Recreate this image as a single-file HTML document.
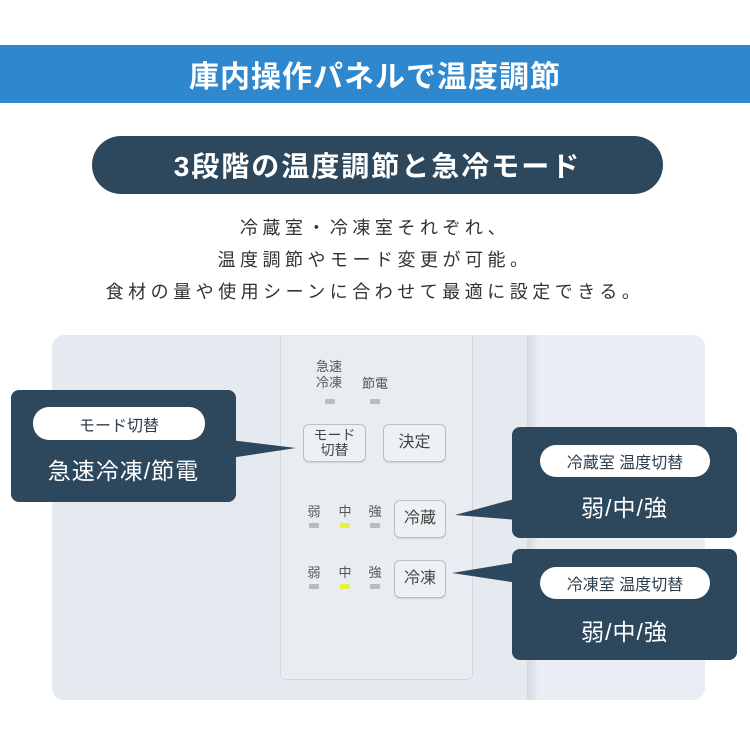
<!DOCTYPE html>
<html><head><meta charset="utf-8"><style>
*{margin:0;padding:0;box-sizing:border-box}
body{width:750px;height:750px;background:#fff;position:relative;overflow:hidden;font-family:"Liberation Sans","Noto Sans CJK JP",sans-serif}
.a{position:absolute}
.c{display:flex;align-items:center;justify-content:center}
.btn{position:absolute;border:1px solid #b9bfc6;border-radius:6px;background:#eef1f4;color:#444;font-size:16px;display:flex;align-items:center;justify-content:center;text-align:center;line-height:1.1;box-shadow:0 1px 1px rgba(0,0,0,.1)}
.lbl{position:absolute;font-size:13px;color:#555;text-align:center;line-height:1.25}
.led{position:absolute;width:10px;height:5px;background:#b4bcc4;border-radius:1px}
.y{background:#e8f03a}
.box{position:absolute;background:#2d475c;border-radius:8px;color:#fff}
.pill{position:absolute;background:#fff;color:#2d3e4d;border-radius:16px;font-size:16px;display:flex;align-items:center;justify-content:center}
.big{position:absolute;left:0;right:0;text-align:center;font-size:23px;letter-spacing:1px}
</style></head><body>
<div class="a c" style="left:0;top:45px;width:750px;height:58px;background:#2f87cd;color:#fff;font-size:30px;font-weight:bold;letter-spacing:1px">庫内操作パネルで温度調節</div>
<div class="a c" style="left:92px;top:136px;width:571px;height:58px;background:#2d475c;border-radius:29px;color:#fff;font-size:28px;font-weight:bold;letter-spacing:2px">3段階の温度調節と急冷モード</div>
<div class="a" style="left:0;top:212px;width:750px;text-align:center;font-size:18px;line-height:32px;color:#333;letter-spacing:4.5px">冷蔵室・冷凍室それぞれ、<br>温度調節やモード変更が可能。<br>食材の量や使用シーンに合わせて最適に設定できる。</div>

<div class="a" style="left:52px;top:335px;width:653px;height:365px;background:#e5eaf1;border-radius:12px"></div>
<div class="a" style="left:527px;top:335px;width:178px;height:365px;background:linear-gradient(90deg,#d3d9e1,#eaeef4 12px,#eaeef4);border-radius:0 12px 12px 0"></div>
<div class="a" style="left:280px;top:336px;width:193px;height:344px;background:#e9edf2;border:1px solid #d3d8de;border-top:none;border-radius:0 0 5px 5px"></div>

<div class="lbl" style="left:309px;top:359px;width:40px">急速<br>冷凍</div>
<div class="lbl" style="left:355px;top:376px;width:40px">節電</div>
<div class="led" style="left:325px;top:399px"></div>
<div class="led" style="left:370px;top:399px"></div>
<div class="btn" style="left:303px;top:424px;width:63px;height:38px;font-size:14px">モード<br>切替</div>
<div class="btn" style="left:383px;top:424px;width:63px;height:38px">決定</div>

<div class="lbl" style="left:306px;top:504px;width:16px">弱</div>
<div class="lbl" style="left:337px;top:504px;width:16px">中</div>
<div class="lbl" style="left:367px;top:504px;width:16px">強</div>
<div class="led" style="left:309px;top:523px"></div>
<div class="led y" style="left:340px;top:523px"></div>
<div class="led" style="left:370px;top:523px"></div>
<div class="btn" style="left:394px;top:500px;width:52px;height:38px">冷蔵</div>

<div class="lbl" style="left:306px;top:565px;width:16px">弱</div>
<div class="lbl" style="left:337px;top:565px;width:16px">中</div>
<div class="lbl" style="left:367px;top:565px;width:16px">強</div>
<div class="led" style="left:309px;top:584px"></div>
<div class="led y" style="left:340px;top:584px"></div>
<div class="led" style="left:370px;top:584px"></div>
<div class="btn" style="left:394px;top:560px;width:52px;height:38px">冷凍</div>

<svg class="a" style="left:0;top:0" width="750" height="750">
<polygon points="230,440 296,448 230,458" fill="#2d475c"/>
<polygon points="518,498 455,515 518,520" fill="#2d475c"/>
<polygon points="518,562 452,573 518,583" fill="#2d475c"/>
</svg>

<div class="box" style="left:11px;top:390px;width:225px;height:112px">
<div class="pill" style="left:22px;top:17px;width:172px;height:33px">モード切替</div>
<div class="big" style="top:62px">急速冷凍/節電</div></div>
<div class="box" style="left:512px;top:427px;width:225px;height:111px">
<div class="pill" style="left:28px;top:18px;width:170px;height:32px">冷蔵室 温度切替</div>
<div class="big" style="top:62px">弱/中/強</div></div>
<div class="box" style="left:512px;top:549px;width:225px;height:111px">
<div class="pill" style="left:28px;top:18px;width:170px;height:32px">冷凍室 温度切替</div>
<div class="big" style="top:64px">弱/中/強</div></div>
</body></html>
